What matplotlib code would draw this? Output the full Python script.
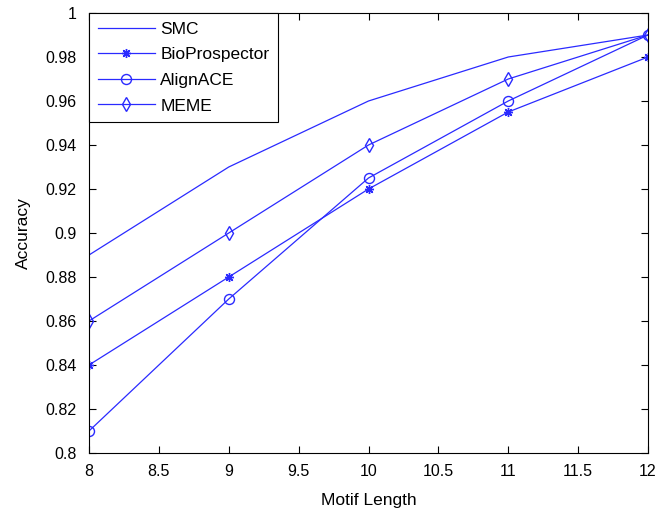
import matplotlib
matplotlib.use("Agg")
import matplotlib.pyplot as plt

plt.rcParams['font.family'] = ['Liberation Sans', 'DejaVu Sans']

motif_length = [8, 9, 10, 11, 12]
smc = [0.89, 0.93, 0.96, 0.98, 0.99]
bioprospector = [0.84, 0.88, 0.92, 0.955, 0.98]
alignace = [0.81, 0.87, 0.925, 0.96, 0.99]
meme = [0.86, 0.90, 0.94, 0.97, 0.99]

xticks = [8, 8.5, 9, 9.5, 10, 10.5, 11, 11.5, 12]
xticklabels = ['8', '8.5', '9', '9.5', '10', '10.5', '11', '11.5', '12']
yticks = [0.8, 0.82, 0.84, 0.86, 0.88, 0.9, 0.92, 0.94, 0.96, 0.98, 1.0]
yticklabels = ['0.8', '0.82', '0.84', '0.86', '0.88', '0.9', '0.92', '0.94', '0.96', '0.98', '1']

color = '#2a2aff'
lw = 0.9
fig = plt.figure(figsize=(6.6, 5.12), dpi=100)
ax = fig.add_axes([89 / 660, 59 / 512, 559 / 660, 440 / 512])

ax.plot(motif_length, smc, color=color, lw=lw, label='SMC')
ax.plot(motif_length, bioprospector, color=color, lw=lw, marker=(8, 2, 0), ms=6.5,
        mew=1.0, label='BioProspector')
ax.plot(motif_length, alignace, color=color, lw=lw, marker='o', ms=7.2, mfc='none',
        mew=1.0, label='AlignACE')
ax.plot(motif_length, meme, color=color, lw=lw, marker='d', ms=7.2, mfc='none',
        mew=1.0, label='MEME')

ax.set_xlim(8, 12)
ax.set_ylim(0.8, 1.0)
ax.set_xticks(xticks)
ax.set_xticklabels(xticklabels)
ax.set_yticks(yticks)
ax.set_yticklabels(yticklabels)
ax.tick_params(direction='in', top=True, right=True, length=5, labelsize=11.5, width=0.8)
ax.tick_params(axis='y', pad=9)
ax.tick_params(axis='x', pad=8)
ax.set_xlabel('Motif Length', fontsize=12.5, labelpad=10)
ax.set_ylabel('Accuracy', fontsize=12.5, labelpad=10)
for s in ax.spines.values():
    s.set_linewidth(0.8)

leg = ax.legend(loc='upper left', bbox_to_anchor=(0.0, 1.0), fontsize=12.5,
                fancybox=False, framealpha=1, edgecolor='black', borderaxespad=0,
                handlelength=3.3, handletextpad=0.3, labelspacing=0.6, borderpad=0.5)
leg.get_frame().set_linewidth(0.8)

fig.savefig('out.png', dpi=100)
